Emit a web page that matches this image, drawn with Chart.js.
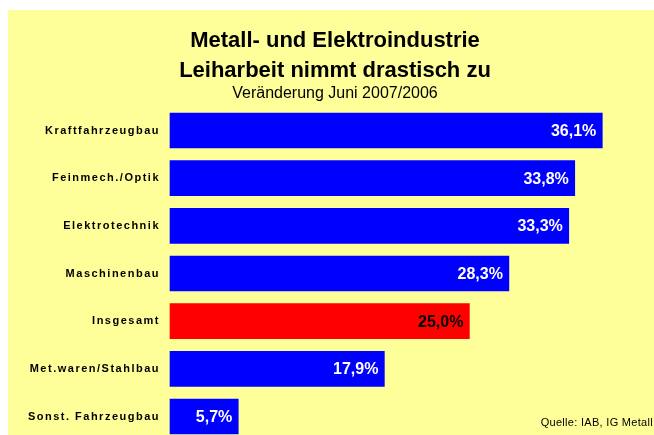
<!DOCTYPE html>
<html>
<head>
<meta charset="UTF-8">
<title>Leiharbeit Metall- und Elektroindustrie</title>
<script src="https://cdn.jsdelivr.net/npm/chart.js"></script>
<style>
  html, body { margin: 0; padding: 0; background: #fff; }
  #wrap { position: absolute; left: 8px; top: 10px; width: 646px; height: 425px; background: #ffff99; }
</style>
</head>
<body>
<div id="wrap"><canvas id="chart" width="646" height="425"></canvas></div>
<script>
// data
const categories = ['Kraftfahrzeugbau', 'Feinmech./Optik', 'Elektrotechnik', 'Maschinenbau', 'Insgesamt', 'Met.waren/Stahlbau', 'Sonst. Fahrzeugbau'];
const values = [36.1, 33.8, 33.3, 28.3, 25.0, 17.9, 5.7];
const highlight = 'Insgesamt';
const titleLines = ['Metall- und Elektroindustrie', 'Leiharbeit nimmt drastisch zu'];
const subtitle = 'Veränderung Juni 2007/2006';
const source = 'Quelle: IAB, IG Metall';

const FONT = '"Liberation Sans", Arial, sans-serif';

// letter spaced axis labels (scales are drawn before the bars)
const spacing = {
  id: 'spacing',
  beforeDraw(chart) { chart.ctx.letterSpacing = '1.5px'; },
  beforeDatasetsDraw(chart) { chart.ctx.letterSpacing = '0px'; }
};

// value labels at the bar ends, titles, source note
const texts = {
  id: 'texts',
  afterDatasetsDraw(chart) {
    const ctx = chart.ctx;
    const meta = chart.getDatasetMeta(0);
    ctx.save();
    ctx.font = 'bold 16px ' + FONT;
    ctx.textAlign = 'right';
    ctx.textBaseline = 'middle';
    meta.data.forEach((bar, i) => {
      ctx.fillStyle = categories[i] === highlight ? '#000' : '#fff';
      ctx.fillText(values[i].toFixed(1).replace('.', ',') + '%', bar.x - 6, bar.y + 1);
    });
    ctx.restore();
  },
  afterDraw(chart) {
    const ctx = chart.ctx;
    ctx.save();
    ctx.letterSpacing = '0px';
    ctx.fillStyle = '#000';
    ctx.textAlign = 'center';
    ctx.textBaseline = 'alphabetic';
    ctx.font = 'bold 22px ' + FONT;
    ctx.fillText(titleLines[0], 327, 36.7);
    ctx.fillText(titleLines[1], 327, 66.7);
    ctx.font = '16px ' + FONT;
    ctx.fillText(subtitle, 327, 88.3);

    ctx.font = '11px ' + FONT;
    ctx.letterSpacing = '0.3px';
    ctx.textAlign = 'right';
    ctx.textBaseline = 'middle';
    ctx.fillText(source, chart.width - 1, 413);
    ctx.restore();
  }
};

new Chart(document.getElementById('chart'), {
  type: 'bar',
  data: {
    labels: categories,
    datasets: [{
      data: values,
      backgroundColor: categories.map(c => c === highlight ? '#ff0000' : '#0000ff'),
      barThickness: 35,
      clip: false
    }]
  },
  options: {
    indexAxis: 'y',
    responsive: false,
    animation: false,
    layout: { padding: { top: 120.5, right: 5, bottom: 18.5, left: 0 } },
    plugins: {
      legend: { display: false },
      tooltip: { enabled: false }
    },
    scales: {
      x: { display: false, min: 0, max: 40 },
      y: {
        offset: false,
        grid: { display: false, drawTicks: false },
        border: { display: false },
        ticks: { color: '#000', padding: 10, font: { family: FONT, size: 11, weight: 'bold' } },
        afterFit(scale) { scale.width = 162; }
      }
    }
  },
  plugins: [spacing, texts]
});
</script>
</body>
</html>
